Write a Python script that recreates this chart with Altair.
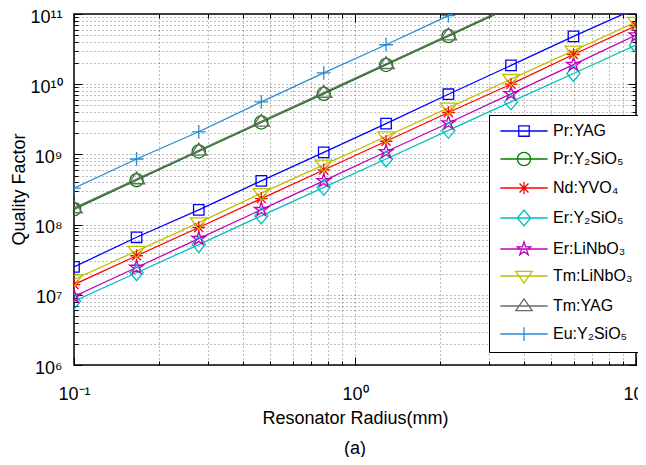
import math
import altair as alt
import pandas as pd

# ---------------- data ----------------
radius = [0.1, 0.167, 0.278, 0.464, 0.774, 1.29, 2.15, 3.59, 5.99, 10.0]

series = ["Pr:YAG", "Pr:Y₂SiO₅", "Nd:YVO₄", "Er:Y₂SiO₅",
          "Er:LiNbO₃", "Tm:LiNbO₃", "Tm:YAG", "Eu:Y₂SiO₅"]

pr_yag = [2.5e7, 6.6e7, 1.62e8, 4.2e8, 1.07e9, 2.75e9, 7.2e9, 1.85e10, 4.8e10, 1.2e11]
pr_yso = [1.65e8, 4.3e8, 1.1e9, 2.85e9, 7.3e9, 1.88e10, 4.85e10, 1.25e11, 3.2e11, 8.2e11]
nd_yvo = [1.4e7, 3.6e7, 9.1e7, 2.35e8, 6.0e8, 1.54e9, 3.95e9, 1.0e10, 2.65e10, 6.8e10]
er_yso = [8.1e6, 2.06e7, 5.2e7, 1.33e8, 3.4e8, 8.6e8, 2.2e9, 5.6e9, 1.42e10, 3.6e10]
er_lno = [9.5e6, 2.45e7, 6.3e7, 1.63e8, 4.2e8, 1.09e9, 2.8e9, 7.3e9, 1.9e10, 5.0e10]
tm_lno = [1.65e7, 4.2e7, 1.07e8, 2.8e8, 7.1e8, 1.8e9, 4.6e9, 1.18e10, 3.0e10, 7.7e10]
tm_yag = [1.72e8, 4.45e8, 1.14e9, 2.95e9, 7.6e9, 1.95e10, 5.0e10, 1.3e11, 3.3e11, 8.5e11]
eu_yso = [3.3e8, 8.6e8, 2.1e9, 5.6e9, 1.45e10, 3.65e10, 9.5e10, 2.45e11, 6.3e11, 1.6e12]

values = [pr_yag, pr_yso, nd_yvo, er_yso, er_lno, tm_lno, tm_yag, eu_yso]

colors = ["#0000ff", "#008000", "#ff0000", "#00bfbf",
          "#bf00bf", "#bfbf00", "#6a6a6a", "#2b8bd0"]

x_ticks = [0.1, 0.2, 0.3, 0.4, 0.5, 0.6, 0.7, 0.8, 0.9,
           1, 2, 3, 4, 5, 6, 7, 8, 9, 10]
x_major = [0.1, 1, 10]
x_labels = {0.1: "10⁻¹", 1: "10⁰", 10: "10¹"}

y_major = [1e6, 1e7, 1e8, 1e9, 1e10, 1e11]
y_ticks = [m * d for d in [1e6, 1e7, 1e8, 1e9, 1e10] for m in range(1, 10)] + [1e11]
y_labels = {1e6: "10⁶", 1e7: "10⁷", 1e8: "10⁸", 1e9: "10⁹", 1e10: "10¹⁰", 1e11: "10¹¹"}

# ---------------- table ----------------
rows = []
for i, (s, vals) in enumerate(zip(series, values)):
    for r, q in zip(radius, vals):
        rows.append({"series": s, "order": i, "r": r, "q": q})
df = pd.DataFrame(rows)

# ---------------- marker shapes (unit box paths) ----------------
def poly(pts):
    return "M" + "L".join(f"{x:.3f},{y:.3f}" for x, y in pts) + "Z"

def circle(r):
    return f"M{-r},0A{r},{r} 0 1,0 {r},0A{r},{r} 0 1,0 {-r},0Z"

def asterisk(r):
    d = r * 0.7071
    return (f"M{-r},0L{r},0M0,{-r}L0,{r}"
            f"M{-d:.3f},{-d:.3f}L{d:.3f},{d:.3f}M{-d:.3f},{d:.3f}L{d:.3f},{-d:.3f}")

def star(R):
    pts = []
    for k in range(10):
        rad = R if k % 2 == 0 else R * 0.382
        a = math.radians(-90 + 36 * k)
        pts.append((rad * math.cos(a), rad * math.sin(a)))
    return poly(pts)

markers = [
    poly([(-0.95, -0.95), (0.95, -0.95), (0.95, 0.95), (-0.95, 0.95)]),
    circle(1.2),
    asterisk(1.15),
    poly([(0, -1.45), (1.2, 0), (0, 1.45), (-1.2, 0)]),
    star(1.3),
    poly([(-1.5, -0.85), (1.5, -0.85), (0, 1.3)]),
    poly([(-1.5, 0.85), (1.5, 0.85), (0, -1.3)]),
    "M-1.25,0L1.25,0M0,-1.25L0,1.25",
]
legend_paths = [m + "M-4.3,0L4.3,0" for m in markers]

FONT = "Liberation Sans"

def lab_expr(d):
    parts = [f"datum.value == {k} ? '{v}'" for k, v in d.items()]
    return " : ".join(parts) + " : ''"

xs = alt.Scale(type="log", domain=[0.1, 10], nice=False)
ys = alt.Scale(type="log", domain=[1e6, 1e11], nice=False)

def cscale():
    return alt.Scale(domain=series, range=colors)

def tick_axis(orient, vals, size):
    return alt.Axis(orient=orient, values=vals, labels=False, domain=False,
                    grid=False, ticks=True, tickSize=size, offset=-size,
                    tickColor="black", tickWidth=1, title=None)

base = alt.Chart(df)

lines = base.mark_line(clip=True, strokeWidth=1.3).encode(
    x=alt.X("r:Q", scale=xs, axis=alt.Axis(
        orient="bottom", values=x_ticks, labelExpr=lab_expr(x_labels),
        title="Resonator Radius(mm)", grid=True, ticks=False, domain=False,
        labelPadding=20, labelFlush=False, labelOverlap=False,
        titleY=58, titleBaseline="alphabetic")),
    y=alt.Y("q:Q", scale=ys, axis=alt.Axis(
        orient="left", values=y_ticks, labelExpr=lab_expr(y_labels),
        title="Quality Factor", grid=True, ticks=False, domain=False,
        labelPadding=12, labelOverlap=False, labelFlush=False, labelOffset=3,
        titleX=-50, titleY=175, titleBaseline="alphabetic")),
    color=alt.Color("series:N", scale=cscale(), sort=series, legend=None),
    order=alt.Order("r:Q"),
)

points = base.mark_point(clip=True, filled=False, size=121, strokeWidth=1.3, opacity=1).encode(
    x=alt.X("r:Q", scale=xs, axis=tick_axis("top", x_ticks, 4)),
    y=alt.Y("q:Q", scale=ys, axis=tick_axis("right", y_ticks, 4)),
    color=alt.Color("series:N", scale=cscale(), sort=series, legend=None),
    shape=alt.Shape("series:N", scale=alt.Scale(domain=series, range=markers),
                    sort=series, legend=None),
)

leg = alt.Legend(orient="none", legendX=415, legendY=101, title=None,
                 labelFont=FONT, labelFontSize=16, labelColor="black",
                 symbolSize=121, symbolStrokeWidth=1.3, symbolOffset=19,
                 labelOffset=21, rowPadding=10, padding=8,
                 strokeColor="black", fillColor="white", labelLimit=200)

legend_layer = base.mark_point(clip=True, filled=False, size=121, strokeWidth=1.3, opacity=0).encode(
    x=alt.X("r:Q", scale=xs, axis=tick_axis("bottom", x_ticks, 4)),
    y=alt.Y("q:Q", scale=ys, axis=tick_axis("left", y_ticks, 4)),
    color=alt.Color("series:N", scale=cscale(), sort=series, legend=leg),
    shape=alt.Shape("series:N", scale=alt.Scale(domain=series, range=legend_paths),
                    sort=series, legend=leg),
)

major_a = base.mark_point(opacity=0).encode(
    x=alt.X("r:Q", scale=xs, axis=tick_axis("top", x_major, 8)),
    y=alt.Y("q:Q", scale=ys, axis=tick_axis("right", y_major, 8)),
)
major_b = base.mark_point(opacity=0).encode(
    x=alt.X("r:Q", scale=xs, axis=tick_axis("bottom", x_major, 8)),
    y=alt.Y("q:Q", scale=ys, axis=tick_axis("left", y_major, 8)),
)

chart = alt.layer(lines, points, legend_layer, major_a, major_b).resolve_scale(
    color="independent", shape="independent"
).resolve_axis(
    x="independent", y="independent"
).properties(
    width=562, height=351,
    autosize=alt.AutoSizeParams(type="none"),
    padding={"left": 66, "top": 6, "right": 2, "bottom": 92},
    title=alt.TitleParams("(a)", orient="bottom", fontSize=18, font=FONT,
                          fontWeight="normal", color="black", offset=13),
).configure(
    font=FONT
).configure_view(
    stroke="black", strokeWidth=1.5
).configure_axis(
    labelFont=FONT, labelFontSize=18, labelColor="black",
    titleFont=FONT, titleFontSize=18, titleFontWeight="normal", titleColor="black",
    gridColor="#222222", gridOpacity=0.6, gridDash=[1, 3], gridWidth=1,
)

chart.save("out.html", embed_options={"renderer": "svg", "actions": False})
